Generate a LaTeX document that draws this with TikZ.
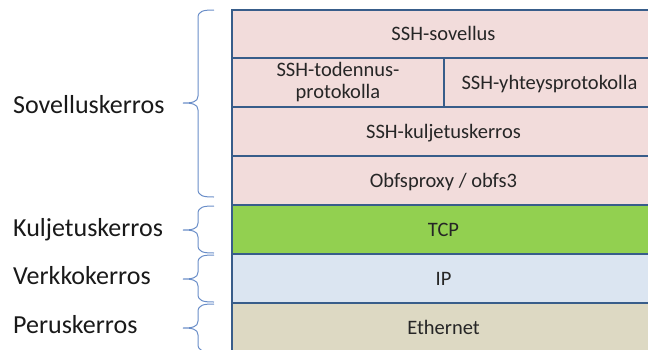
\documentclass[tikz,border=0pt]{standalone}
\usepackage{fontspec}
\setmainfont{Carlito}
\definecolor{pinkfill}{HTML}{F2DCDB}
\definecolor{greenfill}{HTML}{92D050}
\definecolor{bluefill}{HTML}{DBE5F1}
\definecolor{tanfill}{HTML}{DDD9C3}
\definecolor{edgeblue}{HTML}{385D8A}
\definecolor{bracecol}{HTML}{6A8EC8}
\newcommand{\layerbrace}[3]{%
  \draw[bracestyle] (214,#1) .. controls (203,#1) and (198,#1+1) .. (198,#1+8)
    -- (198,#3-7) .. controls (198,#3-1) and (192,#3) .. (183,#3)
    .. controls (192,#3) and (198,#3+1) .. (198,#3+7)
    -- (198,#2-8) .. controls (198,#2-1) and (203,#2) .. (214,#2);}
\tikzset{
  cell/.style={draw=edgeblue, line width=2.5pt, inner sep=0pt, outer sep=0pt,
    font=\fontsize{20.5}{22}\selectfont, text=black!85},
  onetext/.style={text height=13.2pt, text depth=0pt},
  layerlabel/.style={anchor=base west, inner sep=0pt, font=\fontsize{26}{28}\selectfont, text=black!90},
  bracestyle/.style={draw=bracecol, line width=1pt}
}
\begin{document}
\begin{tikzpicture}[x=1pt,y=-1pt]
\useasboundingbox (0,0) rectangle (648,349);
\clip (0,0) rectangle (648,349);
\node[cell, onetext, fill=tanfill, minimum width=423pt, minimum height=49pt] (eth) at (443.5,327.5) {Ethernet};
\node[cell, onetext, fill=bluefill, minimum width=423pt, minimum height=49pt] (ip) at (443.5,278.5) {IP};
\node[cell, onetext, fill=greenfill, minimum width=423pt, minimum height=49pt] (tcp) at (443.5,229.5) {TCP};
\node[cell, onetext, fill=pinkfill, minimum width=423pt, minimum height=49pt] (obfs) at (443.5,180.5) {Obfsproxy / obfs3};
\node[cell, onetext, fill=pinkfill, minimum width=423pt, minimum height=49pt] (kulj) at (443.5,131.5) {SSH-kuljetuskerros};
\node[cell, fill=pinkfill, minimum width=212pt, minimum height=49pt, align=center] (tod) at (338,82.5) {SSH-todennus-\\protokolla};
\node[cell, onetext, fill=pinkfill, minimum width=211pt, minimum height=49pt] (yht) at (549.5,82.5) {SSH-yhteysprotokolla};
\node[cell, onetext, fill=pinkfill, minimum width=423pt, minimum height=48pt] (sov) at (443.5,34) {SSH-sovellus};
\layerbrace{10}{197}{103}
\layerbrace{206}{253}{230}
\layerbrace{255}{302}{279}
\layerbrace{304}{352}{328}
\node[layerlabel] (lsov) at (13,113) {Sovelluskerros};
\node[layerlabel] (lkulj) at (13,236) {Kuljetuskerros};
\node[layerlabel] (lverk) at (13,284) {Verkkokerros};
\node[layerlabel] (lperus) at (13,333) {Peruskerros};
\end{tikzpicture}
\end{document}
